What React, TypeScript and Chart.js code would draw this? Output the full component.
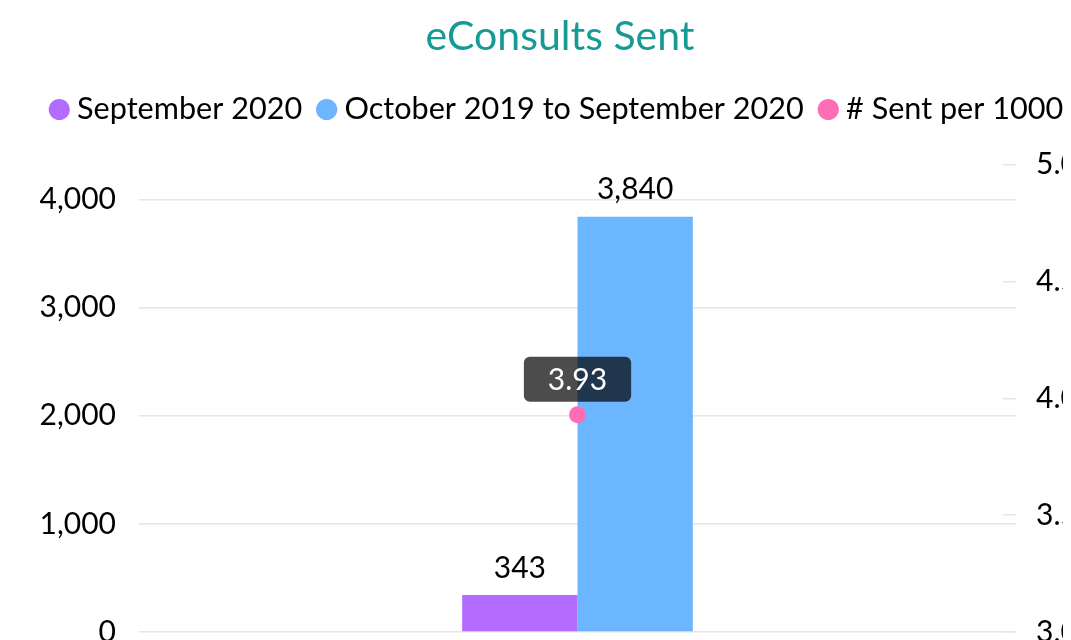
import React, { useEffect, useRef } from 'react';
import { Chart, registerables } from 'chart.js';

Chart.register(...registerables);

const categories = ['eConsults'];
const septemberValues = [343];
const yearValues = [3840];
const perThousandValues = [3.93];
const leftTicks = [0, 1000, 2000, 3000, 4000];
const rightTicks = [3.0, 3.5, 4.0, 4.5, 5.0];
const seriesLabels = ['September 2020', 'October 2019 to September 2020', '# Sent per 1000'];

const FONT = 'Lato, "Open Sans", sans-serif';

const labelPlugin = {
  id: 'valueLabels',
  afterDatasetsDraw(chart: any) {
    const ctx = chart.ctx;
    ctx.save();
    ctx.font = `30px ${FONT}`;
    ctx.fillStyle = '#000';
    ctx.textAlign = 'center';
    ctx.textBaseline = 'middle';
    [0, 1].forEach((di) => {
      const meta = chart.getDatasetMeta(di);
      meta.data.forEach((el: any, i: number) => {
        const v = chart.data.datasets[di].data[i] as number;
        ctx.fillText(v.toLocaleString('en-US'), el.x, el.y - 27);
      });
    });
    const lm = chart.getDatasetMeta(2);
    lm.data.forEach((el: any, i: number) => {
      const v = chart.data.datasets[2].data[i] as number;
      const text = v.toFixed(2);
      ctx.font = `30px ${FONT}`;
      const tw = ctx.measureText(text).width;
      const w = tw + 48;
      const h = 45;
      const x = el.x - w / 2;
      const y = el.y - 13 - h;
      ctx.fillStyle = 'rgba(0,0,0,0.7)';
      ctx.beginPath();
      (ctx as any).roundRect(x, y, w, h, 6);
      ctx.fill();
      ctx.fillStyle = '#fff';
      ctx.fillText(text, el.x, y + h / 2 + 1);
    });
    ctx.restore();
  },
};

const legendSpacer = {
  id: 'legendSpacer',
  beforeInit(chart: any) {
    const legend = chart.legend;
    if (!legend) return;
    const origFit = legend.fit;
    legend.fit = function () {
      origFit.call(this);
      this.height += 30;
    };
  },
};

export default function App() {
  const ref = useRef<HTMLCanvasElement | null>(null);
  useEffect(() => {
    document.documentElement.style.overflow = 'hidden';
    document.body.style.overflow = 'hidden';
    if (!ref.current) return;
    const chart = new Chart(ref.current, {
      type: 'bar',
      data: {
        labels: categories,
        datasets: [
          {
            label: seriesLabels[0],
            data: septemberValues,
            backgroundColor: '#b46bff',
            borderWidth: 0,
            yAxisID: 'y',
            barPercentage: 1,
            categoryPercentage: 0.263,
          },
          {
            label: seriesLabels[1],
            data: yearValues,
            backgroundColor: '#6cb5ff',
            borderWidth: 0,
            yAxisID: 'y',
            barPercentage: 1,
            categoryPercentage: 0.263,
          },
          {
            type: 'line' as any,
            label: seriesLabels[2],
            data: perThousandValues,
            backgroundColor: '#ff6eb4',
            borderColor: '#ff6eb4',
            borderWidth: 0,
            pointRadius: 8.5,
            pointHoverRadius: 8.5,
            pointBorderWidth: 0,
            pointBackgroundColor: '#ff6eb4',
            showLine: false,
            yAxisID: 'y1',
            order: -1,
          } as any,
        ],
      },
      options: {
        responsive: true,
        maintainAspectRatio: false,
        animation: false,
        layout: { padding: { left: 0, right: 0, top: 0, bottom: 76 } },
        plugins: {
          title: {
            display: true,
            text: 'eConsults Sent',
            color: '#169b94',
            font: { family: FONT, size: 41, weight: 'normal' },
            padding: { top: 4, bottom: 11 },
          },
          legend: {
            display: true,
            labels: {
              usePointStyle: true,
              pointStyle: 'circle',
              boxWidth: 5,
              boxHeight: 15,
              padding: 22,
              color: '#000',
              font: { family: FONT, size: 30.6 },
              sort: (a: any, b: any) => a.datasetIndex - b.datasetIndex,
            },
          },
          tooltip: { enabled: false },
        },
        scales: {
          x: {
            display: false,
            offset: true,
          },
          y: {
            position: 'left',
            min: 0,
            max: 4320,
            afterBuildTicks: (scale: any) => {
              scale.ticks = leftTicks.map((v) => ({ value: v }));
            },
            afterFit: (scale: any) => {
              scale.width = 131;
            },
            border: { display: false },
            grid: { color: '#e6e6e6', lineWidth: 1.5, drawTicks: false },
            ticks: {
              padding: 23,
              color: '#000',
              font: { family: FONT, size: 30 },
              callback: (v: any) => Number(v).toLocaleString('en-US'),
            },
          },
          y1: {
            position: 'right',
            min: 3,
            max: 5,
            afterBuildTicks: (scale: any) => {
              scale.ticks = rightTicks.map((v) => ({ value: v }));
            },
            afterFit: (scale: any) => {
              scale.width = 96;
            },
            border: { display: false },
            grid: { drawOnChartArea: false, drawTicks: true, tickLength: -13, color: '#e6e6e6', lineWidth: 1.5 },
            ticks: {
              padding: 33,
              color: '#000',
              font: { family: FONT, size: 30 },
              callback: (v: any) => Number(v).toFixed(1),
            },
          },
        },
      },
      plugins: [labelPlugin, legendSpacer],
    } as any);
    return () => chart.destroy();
  }, []);
  return (
    <div style={{ position: 'relative', width: 1104, height: 700 }}>
      <canvas ref={ref} />
    </div>
  );
}
